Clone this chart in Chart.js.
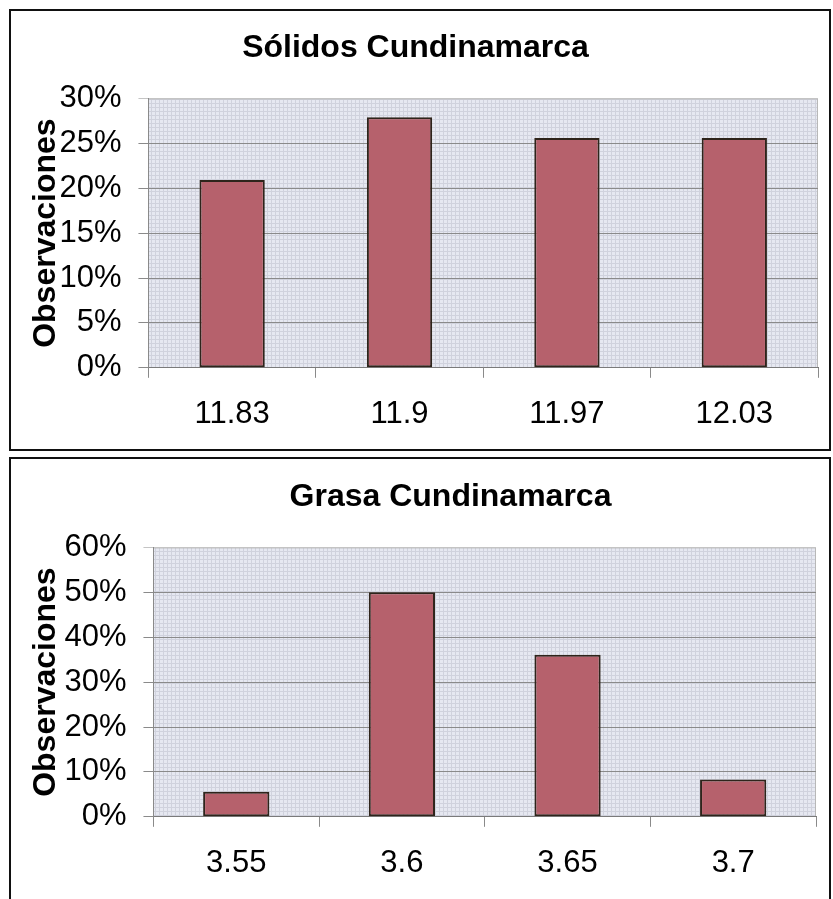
<!DOCTYPE html>
<html>
<head>
<meta charset="utf-8">
<script src="https://cdn.jsdelivr.net/npm/chart.js@4.4.1/dist/chart.umd.min.js"></script>
<style>
    body { margin: 0; background: #fff; width: 833px; height: 899px; overflow: hidden; position: relative; }
    .box { position: absolute; left: 9px; width: 818px; border: 2px solid #111; background: #fff; }
    #box1 { top: 9px; height: 438px; }
    #box2 { top: 457px; height: 440px; }
    canvas { display: block; }
</style>
</head>
<body>
<div class="box" id="box1"><canvas id="solidosChart" width="818" height="438"></canvas></div>
<div class="box" id="box2"><canvas id="grasaChart" width="818" height="440"></canvas></div>
<script>
// Sólidos Cundinamarca
const solidosLabels = ['11.83', '11.9', '11.97', '12.03'];
const solidosValues = [20.9, 27.9, 25.6, 25.6];
const solidosMax = 30;
const solidosStep = 5;

// Grasa Cundinamarca
const grasaLabels = ['3.55', '3.6', '3.65', '3.7'];
const grasaValues = [5.6, 50, 36.1, 8.3];
const grasaMax = 60;
const grasaStep = 10;

const FONT = "'Liberation Sans', Arial, sans-serif";
Chart.defaults.font.family = FONT;
Chart.defaults.color = '#000';

// hatched light background like the scanned excel plot area
function makePattern() {
    const c = document.createElement('canvas');
    c.width = 4; c.height = 4;
    const g = c.getContext('2d');
    g.fillStyle = '#e6e8f1';
    g.fillRect(0, 0, 4, 4);
    g.fillStyle = '#d0d2dd';
    g.fillRect(0, 0, 4, 1);
    g.fillRect(0, 0, 1, 4);
    return g.createPattern(c, 'repeat');
}

const plotBg = {
    id: 'plotBg',
    beforeDraw(chart) {
        const { ctx, chartArea: a } = chart;
        ctx.save();
        ctx.fillStyle = makePattern();
        ctx.fillRect(a.left, a.top, a.right - a.left, a.bottom - a.top);
        ctx.strokeStyle = '#b8b8b8';
        ctx.lineWidth = 1;
        ctx.beginPath();
        ctx.moveTo(a.left, a.top + 0.5);
        ctx.lineTo(a.right - 0.5, a.top + 0.5);
        ctx.lineTo(a.right - 0.5, a.bottom);
        ctx.stroke();
        ctx.restore();
    }
};

// excel did not center both titles the same way, nudge the title box sideways
const titleShift = {
    id: 'titleShift',
    afterLayout(chart, args, opts) {
        const t = chart.titleBlock;
        if (t && opts.dx) {
            t.left += opts.dx;
            t.right += opts.dx;
        }
    }
};

function buildChart(id, title, labels, values, yMax, yStep, lay) {
    new Chart(document.getElementById(id), {
        type: 'bar',
        data: {
            labels: labels,
            datasets: [{
                data: values,
                backgroundColor: '#b6616c',
                borderColor: '#2e241b',
                borderWidth: 2,
                borderSkipped: false,
                categoryPercentage: 1,
                barPercentage: lay.bar
            }]
        },
        options: {
            responsive: false,
            animation: false,
            layout: { padding: { left: lay.left, right: lay.right, top: 0, bottom: lay.bottom } },
            plugins: {
                legend: { display: false },
                tooltip: { enabled: false },
                titleShift: { dx: lay.titleDx },
                title: {
                    display: true,
                    text: title,
                    color: '#000',
                    font: { size: 32, weight: 'bold' },
                    padding: { top: lay.titleTop, bottom: 31 }
                }
            },
            scales: {
                x: {
                    grid: { drawOnChartArea: false, drawTicks: true, tickLength: 10, color: '#8a8a8a', offset: true },
                    border: { color: '#7a7a7a', width: 1 },
                    ticks: { color: '#000', font: { size: 31 }, padding: 18, maxRotation: 0 }
                },
                y: {
                    min: 0,
                    max: yMax,
                    grid: {
                        tickLength: 10,
                        color: ctx => ctx.tick && ctx.tick.value === yMax ? '#c4c4c4' : '#8a8a8a',
                        lineWidth: 1
                    },
                    border: { color: '#8a8a8a', width: 1 },
                    ticks: {
                        stepSize: yStep,
                        color: '#000',
                        font: { size: 31 },
                        padding: 17,
                        callback: v => v + '%'
                    },
                    title: {
                        display: true,
                        text: 'Observaciones',
                        color: '#000',
                        font: { size: 32, weight: 'bold' },
                        padding: { top: lay.yTitleTop, bottom: lay.yTitleBottom }
                    }
                }
            }
        },
        plugins: [plotBg, titleShift]
    });
}

buildChart('solidosChart', 'Sólidos Cundinamarca', solidosLabels, solidosValues, solidosMax, solidosStep,
    { left: 2, right: 11, bottom: -2, titleTop: 18, titleDx: 0, yTitleTop: 14, yTitleBottom: -23, bar: 0.39 });

buildChart('grasaChart', 'Grasa Cundinamarca', grasaLabels, grasaValues, grasaMax, grasaStep,
    { left: 2, right: 13, bottom: -1, titleTop: 19, titleDx: 36, yTitleTop: 14, yTitleBottom: -18, bar: 0.40 });
</script>
</body>
</html>
